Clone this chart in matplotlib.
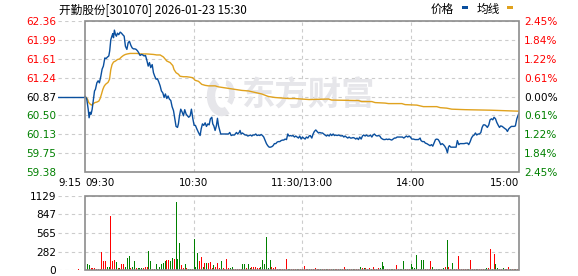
import matplotlib
matplotlib.use('Agg')
import matplotlib.pyplot as plt
import matplotlib.transforms as mtransforms
from matplotlib.patches import Rectangle, Arc

# ---- data (minutes after 09:30, 240 = 15:00) ----
title = '开勤股份[301070] 2026-01-23 15:30'
prev_close = 60.87

pre_t = [-15, 0]
pre_p = [60.87, 60.87]

am_t = [0, 0.9, 1.7, 2.2, 2.8, 3.3, 3.9, 4.6, 5.2, 5.7, 6.5, 7.2, 7.9, 8.7, 9.4, 10.1, 10.9, 11.6,
        12.4, 13.1, 13.6, 14.2, 14.8, 15.3, 15.7, 16.2, 16.8, 17.3, 17.9, 18.6, 19.4, 20.1, 20.8,
        21.6, 22.3, 23.1, 23.8, 24.5, 25.3, 26.0, 26.7, 27.5, 28.2, 29.0, 29.7, 30.4, 31.2, 31.9,
        32.6, 33.4, 34.1, 34.9, 35.6, 36.3, 37.1, 37.8, 38.5, 39.3, 40.0, 40.7, 41.5, 42.2, 43.0,
        43.7, 44.4, 45.2, 45.9, 46.6, 47.4, 48.1, 48.9, 49.6, 50.3, 51.1, 51.6, 52.2, 52.9, 53.7,
        54.4, 55.1, 55.9, 56.6, 57.3, 58.1, 58.8, 59.6, 60.3, 61.0, 61.8, 62.7, 63.6,
        64.2, 64.9, 65.6, 66.4, 67.1, 67.9, 68.6, 69.3, 70.1, 70.6, 71.2, 71.9, 72.6, 73.2, 73.8,
        74.5, 75.0, 77.4, 79.3, 80.0, 80.8, 81.5, 82.6, 83.7, 84.4, 85.2, 85.7, 86.3, 87.0, 87.8,
        88.5, 89.2, 90.0, 90.7, 91.5, 92.2, 92.9, 93.7, 94.4, 95.1, 95.9, 96.6, 97.4, 98.1, 98.8,
        99.6, 100.3, 101.0, 101.8, 102.5, 103.3, 104.0, 104.7, 105.5, 106.2, 106.9, 107.7, 108.4,
        109.2, 109.9, 110.6, 111.4, 112.1, 112.8, 113.6, 114.3, 115.0, 115.8, 116.5, 117.3, 118.0,
        118.7, 119.5]
am_p = [60.87, 60.82, 60.62, 60.45, 60.56, 60.52, 60.62, 60.82, 60.98, 61.01, 61.14, 61.18, 61.14,
        61.27, 61.41, 61.47, 61.63, 61.62, 61.65, 61.67, 61.77, 61.99, 62.06, 62.11, 62.03, 62.18,
        62.09, 62.06, 62.12, 62.09, 62.14, 62.12, 62.09, 62.06, 61.86, 61.80, 61.93, 61.96, 61.88,
        61.83, 61.81, 61.81, 61.80, 61.77, 61.73, 61.68, 61.70, 61.69, 61.67, 61.68, 61.59, 61.47,
        61.54, 61.44, 61.50, 61.34, 61.27, 61.21, 61.22, 61.16, 61.08, 60.98, 60.94, 60.85, 60.92,
        60.83, 60.88, 60.82, 60.79, 60.67, 60.59, 60.43, 60.28, 60.26, 60.33, 60.49, 60.62, 60.56,
        60.49, 60.61, 60.52, 60.49, 60.46, 60.49, 60.62, 60.43, 60.30, 60.30, 60.23, 60.16, 60.10,
        60.23, 60.33, 60.30, 60.35, 60.28, 60.33, 60.31, 60.43, 60.46, 60.33, 60.29, 60.20, 60.29,
        60.44, 60.29, 60.20, 60.13, 60.13, 60.13, 60.16, 60.10, 60.11, 60.11, 60.16, 60.13, 60.16,
        60.20, 60.13, 60.15, 60.13, 60.11, 60.11, 60.09, 60.10, 60.11, 60.09, 60.11, 60.11, 60.13,
        60.10, 60.11, 60.10, 60.12, 60.10, 60.07, 60.00, 59.94, 59.90, 59.87, 59.87, 59.88, 59.90,
        59.94, 59.94, 59.97, 59.98, 59.98, 60.00, 60.01, 60.01, 60.03, 60.02, 60.13, 60.09, 60.10,
        60.09, 60.10, 60.07, 60.09, 60.07, 60.05, 60.09, 60.03]

pm_t = [120.2, 120.9, 121.7, 122.4, 123.2, 123.9,
        124.5, 125.4, 126.1, 126.8, 127.6, 128.3, 129.1, 129.8, 130.5, 131.3, 132.0, 132.7, 133.5,
        134.2, 135.0, 135.7, 136.4, 137.2, 137.9, 138.6, 139.4, 140.1, 140.9, 141.6, 142.3, 143.1,
        143.8, 144.5, 145.3, 146.0, 146.8, 147.5, 148.2, 149.0, 149.7, 150.4, 151.2, 151.9, 152.7,
        153.4, 154.1, 154.9, 155.6, 156.3, 157.1, 157.8, 158.6, 159.3, 160.0, 160.8, 161.5, 162.2,
        163.0, 163.7, 164.5, 165.2, 165.9, 166.7, 167.4, 168.1, 168.9, 169.6, 170.4, 171.1, 171.8,
        172.6, 173.3, 174.4, 175.5, 176.3, 177.0, 177.7, 178.5, 179.2, 179.9, 180.7,
        181.6, 182.5, 183.5, 184.4, 185.3, 185.8, 186.6, 187.5, 188.2, 189.0, 189.9, 190.8, 191.6,
        192.3, 193.0, 193.8, 194.5, 195.3, 196.0, 196.7, 197.5, 198.2, 198.9, 199.7, 200.4, 201.0,
        201.5, 202.3, 203.7, 205.2, 205.9, 206.7, 207.4, 208.5, 209.6, 210.7, 211.5, 212.2, 213.0,
        213.7, 214.4, 215.2, 215.9, 216.6, 217.4, 218.1, 218.9, 219.6, 220.3, 221.1, 221.8, 222.5,
        223.3, 224.0, 224.8, 225.5, 226.2, 227.0, 227.7, 228.4, 229.2, 229.9, 230.7, 231.4, 232.1,
        232.9, 233.6, 234.3, 235.1, 235.8, 236.6, 237.3, 238.0, 238.8, 239.5, 240.0]
pm_p = [60.07, 60.05, 60.03, 60.07, 60.05, 60.09,
        60.10, 60.05, 60.13, 60.18, 60.21, 60.18, 60.15, 60.16, 60.15, 60.15, 60.13, 60.11, 60.09,
        60.11, 60.09, 60.13, 60.10, 60.13, 60.10, 60.11, 60.10, 60.11, 60.10, 60.09, 60.10, 60.07,
        60.09, 60.07, 60.05, 60.07, 60.05, 60.05, 60.06, 60.05, 60.03, 60.05, 60.02, 60.07, 60.03,
        60.09, 60.11, 60.09, 60.11, 60.09, 60.09, 60.11, 60.07, 60.11, 60.13, 60.10, 60.09, 60.10,
        60.09, 60.05, 60.03, 60.02, 60.02, 60.03, 60.02, 60.03, 60.02, 60.01, 60.03, 60.05, 60.05,
        60.07, 60.07, 60.07, 60.07, 60.05, 60.07, 60.09, 60.07, 60.09, 60.07, 60.03,
        60.03, 60.02, 60.02, 60.02, 60.05, 60.00, 59.98, 59.98, 59.95, 59.94, 59.92, 59.90, 59.92,
        59.89, 59.95, 60.02, 60.03, 60.02, 59.98, 59.92, 59.94, 59.92, 59.89, 59.84, 59.76, 59.87,
        59.90, 59.87, 59.87, 59.87, 60.00, 59.92, 59.94, 59.94, 59.94, 59.95, 59.95, 59.92, 59.98,
        60.05, 60.09, 60.11, 60.15, 60.11, 60.13, 60.13, 60.16, 60.26, 60.31, 60.31, 60.29, 60.26,
        60.31, 60.41, 60.43, 60.41, 60.46, 60.43, 60.36, 60.31, 60.26, 60.29, 60.28, 60.26, 60.24,
        60.22, 60.18, 60.23, 60.26, 60.28, 60.28, 60.28, 60.29, 60.43, 60.50, 60.54]

avg_t = [0, 1.3, 2.0, 2.8, 3.5, 4.2, 5.4, 6.5, 7.6, 8.3, 9.0, 9.8, 10.5, 11.3, 12.0, 12.7, 13.5,
         14.2, 14.9, 15.7, 16.8, 17.9, 19.0, 20.1, 21.2, 22.3, 23.4, 24.9, 26.7, 28.6, 30.4, 34.1,
         37.8, 39.6, 41.5, 43.3, 45.2, 47.0, 48.5, 49.2, 50.3, 51.6, 52.5, 54.4, 56.2, 58.1, 59.6,
         60.8, 62.7, 64.5, 66.4, 68.2, 71.9, 73.8, 75.6, 79.3, 83.0, 86.7, 90.3, 94.0, 97.7, 101.4,
         105.1, 108.8, 112.5, 116.2, 119.8, 123.9, 134.6, 136.4, 151.2, 153.0, 158.6, 160.4, 165.9,
         167.8, 175.2, 177.0, 183.5, 187.1, 194.5, 196.4, 200.0, 202.8, 210.2, 224.0, 240.0]
avg_p = [60.87, 60.82, 60.75, 60.72, 60.70, 60.72, 60.75, 60.76, 60.78, 60.83, 60.91, 61.01, 61.07,
         61.11, 61.13, 61.15, 61.21, 61.40, 61.50, 61.55, 61.57, 61.60, 61.61, 61.65, 61.68, 61.70,
         61.71, 61.72, 61.72, 61.72, 61.71, 61.71, 61.70, 61.69, 61.69, 61.65, 61.57, 61.54, 61.48,
         61.40, 61.34, 61.31, 61.27, 61.26, 61.26, 61.25, 61.24, 61.19, 61.17, 61.11, 61.09, 61.08,
         61.08, 61.06, 61.05, 61.03, 61.01, 60.99, 60.98, 60.95, 60.92, 60.87, 60.85, 60.84, 60.83,
         60.83, 60.82, 60.81, 60.82, 60.80, 60.79, 60.77, 60.77, 60.75, 60.74, 60.73, 60.73, 60.71,
         60.70, 60.67, 60.67, 60.65, 60.64, 60.62, 60.61, 60.60, 60.58]

# volume per minute, 1..240 (plus the call auction bar)
auction_t = [-4]
auction_v = [15]
vol = [92, 76, 25, 36, 36, 20, 20, 15, 280, 137,
       137, 41, 51, 824, 137, 153, 117, 25, 25, 92,
       92, 41, 188, 214, 25, 51, 137, 36, 25, 25,
       25, 25, 41, 51, 295, 137, 20, 20, 92, 20,
       51, 86, 112, 137, 153, 153, 137, 188, 163, 1043,
       163, 417, 76, 25, 92, 25, 20, 20, 20, 473,
       41, 264, 142, 203, 51, 102, 102, 102, 122, 31,
       76, 41, 102, 25, 137, 25, 20, 173, 25, 25,
       51, 20, 20, 20, 15, 20, 92, 86, 25, 86,
       25, 51, 41, 51, 25, 25, 51, 153, 92, 498,
       25, 153, 51, 25, 41, 20, 20, 20, 20, 20,
       173, 20, 20, 15, 15, 15, 15, 15, 15, 15,
       61, 15, 15, 15, 15, 15, 36, 15, 15, 15,
       15, 15, 15, 15, 15, 15, 15, 15, 15, 15,
       15, 15, 51, 15, 15, 15, 15, 15, 15, 15,
       15, 46, 36, 36, 25, 15, 25, 15, 51, 15,
       20, 25, 25, 122, 61, 15, 20, 20, 15, 20,
       15, 76, 20, 20, 20, 142, 20, 15, 20, 92,
       51, 36, 229, 20, 15, 153, 153, 20, 20, 15,
       137, 41, 20, 20, 15, 20, 15, 36, 51, 458,
       41, 15, 102, 20, 15, 214, 20, 15, 20, 15,
       20, 15, 153, 20, 15, 20, 15, 20, 15, 20,
       15, 25, 25, 320, 15, 244, 92, 36, 15, 20,
       36, 20, 20, 51, 20, 20, 15, 20, 15, 203]
vol_dir = ('ggrrrrrrrr' 'rggrrrgrgr' 'rgggrggrgg' 'grrrggrggg' 'ggggrrggrg' 'ggrrgrggrg'
           'ggrrgrgrrr' 'grrrgrrrrg' 'grrrrrggrg' 'grrrrrgggg' 'ggrrrrrrrr' 'rggrrrgrrr'
           'rrrgrrrrrg' 'rrgrrrgrrr' 'grrrgrrgrr' 'rgrgrrrgrr' 'rrgggrrrgg' 'rrrgggrrrg'
           'gggrgggrrr' 'rgrgggrgrg' 'rrgrrrrrrr' 'rgrrrgrrrr' 'ggrrgrggrr' 'grrrgrrgrr')

price_ticks = [59.38, 59.75, 60.13, 60.50, 60.87, 61.24, 61.61, 61.99, 62.36]
pct_labels = ['2.45%', '1.84%', '1.22%', '0.61%', '0.00%', '0.61%', '1.22%', '1.84%', '2.45%']
vol_ticks = [0, 282, 565, 847, 1129]
time_ticks = [-15, 0, 60, 120, 180, 240]
time_labels = ['9:15', '09:30', '10:30', '11:30/13:00', '14:00', '15:00']

# ---- styling ----
RED = '#ff0000'
GREEN = '#008000'
BLUE = '#0a4f9e'
GOLD = '#e0a21e'
GRID = '#cccccc'
FRAME = '#8c8c8c'
WMARK = '#e6e6ea'
cjk = ['Noto Sans CJK SC', 'DejaVu Sans']

W, H = 578, 276
fig = plt.figure(figsize=(W / 100, H / 100), dpi=100)

ax = fig.add_axes([58 / W, 1 - 172 / H, (519 - 58) / W, (172 - 21) / H])
axv = fig.add_axes([58 / W, 1 - 270 / H, (519 - 58) / W, (270 - 196) / H])

for a, yt in ((ax, price_ticks), (axv, vol_ticks)):
    a.set_xlim(-15, 240)
    for s in a.spines.values():
        s.set_visible(False)
    for y in yt:
        a.axhline(y, color=GRID, lw=0.8, dashes=(3, 3), zorder=0)
    for x in time_ticks[2:5]:
        a.axvline(x, color=GRID, lw=0.8, dashes=(3, 3), zorder=0)
    tr = mtransforms.blended_transform_factory(a.transData, a.transAxes)
    a.add_patch(Rectangle((0, 0), 240, 1, transform=tr, fill=False, ec=FRAME, lw=1.2,
                          clip_on=False, zorder=4))
    a.tick_params(axis='both', length=0, labelsize=7.6)

# price panel
ax.set_ylim(price_ticks[0], price_ticks[-1])
ax.set_yticks(price_ticks)
ax.set_yticklabels(['%.2f' % v for v in price_ticks])
ax.tick_params(axis='y', pad=1.5)
for lbl, v in zip(ax.get_yticklabels(), price_ticks):
    lbl.set_color(RED if v > prev_close else (GREEN if v < prev_close else 'black'))

ax.set_xticks(time_ticks)
ax.set_xticklabels(time_labels)
ax.tick_params(axis='x', pad=4, labelsize=7.4)
xl = ax.get_xticklabels()
xl[0].set_ha('left')
xl[1].set_ha('left')
xl[-1].set_ha('right')

ax2 = ax.twinx()
ax2.set_ylim(price_ticks[0], price_ticks[-1])
for s in ax2.spines.values():
    s.set_visible(False)
ax2.set_yticks(price_ticks)
ax2.set_yticklabels(pct_labels)
ax2.tick_params(axis='y', length=0, pad=3.5, labelsize=7.6)
for lbl, v in zip(ax2.get_yticklabels(), price_ticks):
    lbl.set_color(RED if v > prev_close else (GREEN if v < prev_close else 'black'))

# watermark (logo swoosh + name)
ax.add_patch(Arc((222 / W, 1 - 96 / H), 22 / W, 32 / H, theta1=100, theta2=280,
                 transform=fig.transFigure, color=WMARK, lw=6, zorder=0.5))
ax.add_patch(Arc((226 / W, 1 - 94 / H), 12 / W, 22 / H, theta1=-80, theta2=90,
                 transform=fig.transFigure, color=WMARK, lw=4, zorder=0.5))
ax.text(308 / W, 1 - 96 / H, '东方财富', transform=fig.transFigure, ha='center', va='center',
        fontsize=24, fontweight='bold', color=WMARK, family=cjk, zorder=0.5)

ax.plot(pre_t, pre_p, color=BLUE, lw=1.0, zorder=3)
ax.plot(avg_t, avg_p, color=GOLD, lw=1.0, zorder=2)
ax.plot(am_t + pm_t, am_p + pm_p, color=BLUE, lw=1.0, zorder=3)

# volume panel, one-pixel bars
minutes = list(range(1, len(vol) + 1))
colors = [RED if c == 'r' else GREEN for c in vol_dir]
axv.vlines(minutes, 0, vol, colors=colors, lw=0.6, antialiased=False, zorder=2)
axv.vlines(auction_t, 0, auction_v, colors=RED, lw=0.6, antialiased=False, zorder=2)
axv.set_ylim(0, vol_ticks[-1])
axv.set_yticks(vol_ticks)
axv.set_yticklabels([str(v) for v in vol_ticks])
axv.tick_params(axis='y', pad=1.5)
axv.set_xticks([])

# title and legend
fig.text(59 / W, 1 - 9.5 / H, title, ha='left', va='center', fontsize=8.4, family=cjk)
fig.text(431 / W, 1 - 9.5 / H, '价格', ha='left', va='center', fontsize=8.4, family=cjk)
fig.text(477 / W, 1 - 9.5 / H, '均线', ha='left', va='center', fontsize=8.4, family=cjk)
fig.add_artist(Rectangle((462 / W, 1 - 9 / H), 6 / W, 3 / H, transform=fig.transFigure,
                         color=BLUE, lw=0))
fig.add_artist(Rectangle((507 / W, 1 - 9 / H), 6 / W, 3 / H, transform=fig.transFigure,
                         color=GOLD, lw=0))

fig.savefig('out.png', dpi=100)
